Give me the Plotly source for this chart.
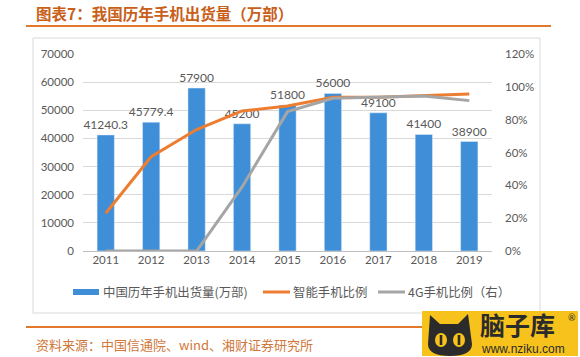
import plotly.graph_objects as go

years = ["2011", "2012", "2013", "2014", "2015", "2016", "2017", "2018", "2019"]
shipments = [41240.3, 45779.4, 57900, 45200, 51800, 56000, 49100, 41400, 38900]
shipment_labels = ["41240.3", "45779.4", "57900", "45200", "51800", "56000", "49100", "41400", "38900"]
smart_ratio = [0.23, 0.574, 0.74, 0.853, 0.883, 0.936, 0.936, 0.944, 0.956]
g4_ratio = [0.0, 0.0, 0.0, 0.39, 0.849, 0.93, 0.936, 0.944, 0.916]

left_ticks = [0, 10000, 20000, 30000, 40000, 50000, 60000, 70000]
right_ticks = [0, 0.2, 0.4, 0.6, 0.8, 1.0, 1.2]
right_labels = ["0%", "20%", "40%", "60%", "80%", "100%", "120%"]

title_text = "图表7：我国历年手机出货量（万部）"
source_text = "资料来源：中国信通院、wind、湘财证券研究所"
legend_names = ["中国历年手机出货量(万部)", "智能手机比例", "4G手机比例（右）"]

BLUE = "#3F8ED8"
ORANGE = "#ED7D31"
GREY = "#A5A5A5"
TXT = "#595959"
FONT = "Lato, 'Noto Sans CJK SC', sans-serif"
CJK = "'Noto Sans CJK SC', sans-serif"

W, H = 580, 357
L, R, T, B = 83, 492, 54, 251


def px(x):
    return (x - L) / (R - L)


def py(y):
    return (B - y) / (B - T)


fig = go.Figure()
fig.add_trace(go.Bar(
    x=years, y=shipments, name=legend_names[0], marker_color=BLUE, width=0.38,
    text=shipment_labels, textposition="outside", cliponaxis=False, constraintext="none",
    textfont=dict(family=FONT, size=12, color=TXT), showlegend=False,
))
fig.add_trace(go.Scatter(
    x=years, y=smart_ratio, name=legend_names[1], yaxis="y2", mode="lines",
    line=dict(color=ORANGE, width=3), showlegend=False,
))
fig.add_trace(go.Scatter(
    x=years, y=g4_ratio, name=legend_names[2], yaxis="y2", mode="lines",
    line=dict(color=GREY, width=3), showlegend=False,
))

shapes = []
annotations = []

# chart frame
shapes.append(dict(type="rect", xref="paper", yref="paper", x0=px(33), x1=px(540), y0=py(38), y1=py(313),
                   line=dict(color="#D9D9D9", width=1), fillcolor="rgba(0,0,0,0)", layer="below"))
# title rule and bottom rule
shapes.append(dict(type="line", xref="paper", yref="paper", x0=px(26), x1=px(551), y0=py(26), y1=py(26),
                   line=dict(color="#E2782C", width=2)))
shapes.append(dict(type="line", xref="paper", yref="paper", x0=px(26), x1=px(551), y0=py(327), y1=py(327),
                   line=dict(color="#E2782C", width=2)))

annotations.append(dict(text="<b>" + title_text + "</b>", xref="paper", yref="paper", x=px(34), y=py(13),
                        xanchor="left", yanchor="middle", showarrow=False,
                        font=dict(family=CJK, size=15.5, color="#C8601A")))
annotations.append(dict(text=source_text, xref="paper", yref="paper", x=px(34), y=py(344),
                        xanchor="left", yanchor="middle", showarrow=False,
                        font=dict(family="'Noto Sans CJK SC', serif", size=13, color="#D0773A")))

# manual legend
ly = 292
shapes.append(dict(type="rect", xref="paper", yref="paper", x0=px(73), x1=px(99), y0=py(ly - 3), y1=py(ly + 3),
                   line=dict(width=0), fillcolor=BLUE))
shapes.append(dict(type="line", xref="paper", yref="paper", x0=px(263), x1=px(290), y0=py(ly), y1=py(ly),
                   line=dict(color=ORANGE, width=3)))
shapes.append(dict(type="line", xref="paper", yref="paper", x0=px(378), x1=px(405), y0=py(ly), y1=py(ly),
                   line=dict(color=GREY, width=3)))
for xpos, name in zip([101, 291, 406], legend_names):
    annotations.append(dict(text=name, xref="paper", yref="paper", x=px(xpos), y=py(ly),
                            xanchor="left", yanchor="middle", showarrow=False,
                            font=dict(family=CJK, size=12.4, color=TXT)))

# watermark
shapes.append(dict(type="rect", xref="paper", yref="paper", x0=px(422), x1=px(578), y0=py(311), y1=py(356),
                   line=dict(width=0), fillcolor="#F7C21B"))


def P(x, y):
    return f"{px(x)},{py(y)}"


shapes.append(dict(type="path", xref="paper", yref="paper",
                   path=(f"M {P(428,344)} L {P(430,315)} L {P(440,324)} L {P(458,324)} L {P(468,314)} "
                         f"L {P(472,344)} Q {P(472,356)} {P(450,356)} Q {P(428,356)} {P(428,344)} Z"),
                   line=dict(width=0), fillcolor="#2B2B2B"))
for cx in (441, 459):
    shapes.append(dict(type="circle", xref="paper", yref="paper", x0=px(cx - 6), x1=px(cx + 6),
                       y0=py(347), y1=py(333), line=dict(width=0), fillcolor="#F7C21B"))
    shapes.append(dict(type="rect", xref="paper", yref="paper", x0=px(cx - 1.3), x1=px(cx + 1.3),
                       y0=py(345), y1=py(335), line=dict(width=0), fillcolor="#2B2B2B"))
annotations.append(dict(text="<b>脑子库</b>", xref="paper", yref="paper", x=px(479), y=py(324),
                        xanchor="left", yanchor="middle", showarrow=False, borderpad=0,
                        font=dict(family=CJK, size=25, color="#2B2B2B")))
annotations.append(dict(text="®", xref="paper", yref="paper", x=px(567), y=py(317),
                        xanchor="left", yanchor="middle", showarrow=False, borderpad=0,
                        font=dict(family=FONT, size=9, color="#2B2B2B")))
annotations.append(dict(text="www.nziku.com", xref="paper", yref="paper", x=px(480), y=py(348.5),
                        xanchor="left", yanchor="middle", showarrow=False, borderpad=0,
                        font=dict(family="'Liberation Sans', sans-serif", size=12, color="#2B2B2B")))

fig.update_layout(
    width=W, height=H,
    margin=dict(l=L, r=W - R, t=T, b=H - B, pad=0),
    paper_bgcolor="white", plot_bgcolor="white",
    font=dict(family=FONT, size=11, color=TXT),
    showlegend=False,
    bargap=0.62,
    xaxis=dict(type="category", showgrid=False, ticks="", showline=False,
               tickfont=dict(family=FONT, size=11.5, color=TXT), zeroline=False),
    yaxis=dict(range=[0, 70000], tickvals=left_ticks, ticktext=[str(v) for v in left_ticks],
               gridcolor="#D9D9D9", gridwidth=1, zeroline=True, zerolinecolor="#BFBFBF", zerolinewidth=1,
               showline=False, ticks="", ticklabelstandoff=8,
               tickfont=dict(family=FONT, size=11.5, color=TXT)),
    yaxis2=dict(range=[0, 1.2], overlaying="y", side="right", tickvals=right_ticks, ticktext=right_labels,
                showgrid=False, zeroline=False, showline=False, ticks="", ticklabelstandoff=12,
                tickfont=dict(family=FONT, size=11.5, color=TXT)),
    shapes=shapes,
    annotations=annotations,
)

fig.write_html("out.html", config={"displayModeBar": False},
               post_script="document.body.style.margin='0';document.body.style.overflow='hidden';")
